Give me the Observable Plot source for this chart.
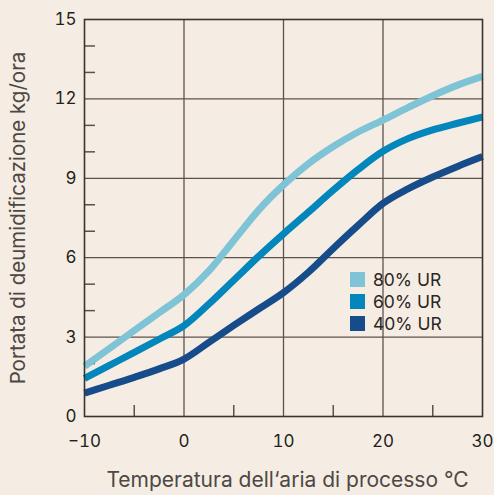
<!DOCTYPE html>
<html>
<head>
<meta charset="utf-8">
<script src="https://cdn.jsdelivr.net/npm/d3@7"></script>
<script src="https://cdn.jsdelivr.net/npm/@observablehq/plot@0.6"></script>
<style>
  html, body { margin: 0; padding: 0; background: #f5ede3; }
  #wrap { position: relative; width: 494px; height: 495px; font-family: Inter, "DejaVu Sans", sans-serif; }
  #legend { position: absolute; left: 350px; top: 268px; }
  .row { display: flex; align-items: center; height: 22px; font-size: 17.5px; color: #2b2624; }
  .sw { width: 15px; height: 15px; margin-right: 8px; }
</style>
</head>
<body>
<div id="wrap"><div id="legend"></div></div>
<script>
// Data
const temperature = [-10, -7.5, -5, -2.5, 0, 2.5, 5, 7.5, 10, 12.5, 15, 17.5, 20, 22.5, 25, 27.5, 30];
const ur80 = [1.9, 2.57, 3.25, 3.92, 4.6, 5.5, 6.65, 7.8, 8.75, 9.55, 10.2, 10.75, 11.2, 11.67, 12.12, 12.52, 12.85];
const ur60 = [1.44, 1.93, 2.42, 2.92, 3.43, 4.25, 5.15, 6.05, 6.9, 7.72, 8.55, 9.33, 10.02, 10.5, 10.83, 11.08, 11.32];
const ur40 = [0.88, 1.18, 1.48, 1.8, 2.17, 2.8, 3.44, 4.06, 4.68, 5.45, 6.35, 7.22, 8.05, 8.6, 9.05, 9.45, 9.82];
const seriesNames = ["80% UR", "60% UR", "40% UR"];
const seriesColors = ["#7fc3d7", "#0386bb", "#174c8b"];
const xTicks = [-10, 0, 10, 20, 30];
const yTicks = [0, 3, 6, 9, 12, 15];
const xGrid = [0, 10, 20];
const yGrid = [3, 6, 9, 12];
const xMinor = [-5, 5, 15, 25];
const yMinor = [1, 2, 4, 5, 7, 8, 10, 11, 13, 14];
const xTitle = "Temperatura dell‘aria di processo °C";
const yTitle = "Portata di deumidificazione kg/ora";

const allSeries = [ur80, ur60, ur40];
const rows = [];
allSeries.forEach((vals, i) => vals.forEach((v, j) => rows.push({series: seriesNames[i], t: temperature[j], v})));

const W = 494, H = 495, mL = 84, mR = 12, mT = 19, mB = 79;
const pw = W - mL - mR, ph = H - mT - mB;
const gridColor = "#5c524d";

const chart = Plot.plot({
  width: W, height: H,
  marginLeft: mL, marginRight: mR, marginTop: mT, marginBottom: mB,
  style: {background: "#f5ede3", fontFamily: "Inter, 'DejaVu Sans', sans-serif", color: "#231f20"},
  x: {domain: [-10, 30]},
  y: {domain: [0, 15]},
  color: {domain: seriesNames, range: seriesColors},
  marks: [
    Plot.ruleX(xGrid, {stroke: gridColor, strokeWidth: 1.3}),
    Plot.ruleY(yGrid, {stroke: gridColor, strokeWidth: 1.3}),
    Plot.ruleX(xMinor, {stroke: gridColor, strokeWidth: 1.5, insetTop: ph - 11}),
    Plot.ruleY(yMinor, {stroke: gridColor, strokeWidth: 1.5, insetRight: pw - 11}),
    Plot.line(rows, {x: "t", y: "v", z: "series", stroke: "series", strokeWidth: 7, curve: "monotone-x", strokeLinecap: "butt"}),
    Plot.frame({stroke: "#3a3330", strokeWidth: 1.6}),
    Plot.axisX({ticks: xTicks, tickSize: 0, tickPadding: 18, fontSize: 17, label: null}),
    Plot.axisY({ticks: yTicks, tickSize: 0, tickPadding: 8, fontSize: 17, label: null}),
    Plot.text([xTitle], {frameAnchor: "bottom", dy: 70, dx: 4, fontSize: 21, fill: "#4d4845"}),
    Plot.text([yTitle], {frameAnchor: "left", textAnchor: "middle", rotate: -90, dx: -66, fontSize: 20.5, fill: "#4d4845"})
  ]
});
document.getElementById("wrap").prepend(chart);

const legend = document.getElementById("legend");
seriesNames.forEach((n, i) => {
  const r = document.createElement("div");
  r.className = "row";
  r.innerHTML = `<span class="sw" style="background:${seriesColors[i]}"></span><span>${n}</span>`;
  legend.appendChild(r);
});
</script>
</body>
</html>
